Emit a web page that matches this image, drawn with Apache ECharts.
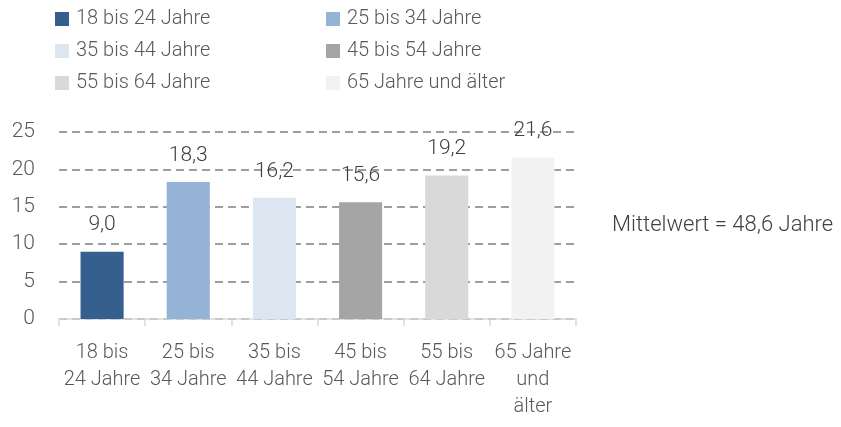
<!DOCTYPE html>
<html>
<head>
<meta charset="utf-8">
<script src="https://cdn.jsdelivr.net/npm/echarts@6/dist/echarts.min.js"></script>
<style>
  html, body { margin: 0; padding: 0; background: #fff; }
  #chart { width: 841px; height: 427px; }
</style>
</head>
<body>
<div id="chart"></div>
<script>
'use strict';

// Altersgruppen und Anteile (%)
var groups = ['18 bis 24 Jahre', '25 bis 34 Jahre', '35 bis 44 Jahre', '45 bis 54 Jahre', '55 bis 64 Jahre', '65 Jahre und älter'];
var axisLabels = ['18 bis\n24 Jahre', '25 bis\n34 Jahre', '35 bis\n44 Jahre', '45 bis\n54 Jahre', '55 bis\n64 Jahre', '65 Jahre\nund\nälter'];
var values = [9.0, 18.3, 16.2, 15.6, 19.2, 21.6];
var colors = ['#355F8D', '#95B3D7', '#DCE6F1', '#A5A5A5', '#D9D9D9', '#F2F2F2'];
var yTicks = [0, 5, 10, 15, 20, 25];
var meanText = 'Mittelwert = 48,6 Jahre';

var FONT = 'Roboto, "Noto Sans", sans-serif';
var W = 300; // leichter Schnitt

function buildChart() {
	var myChart = echarts.init(document.getElementById('chart'));

	// je Gruppe eine Serie, nur an ihrer eigenen Kategorie befüllt
	var series = groups.map(function (name, i) {
		var data = values.map(function (v, j) { return j === i ? v : '-'; });
		return {
			name: name,
			type: 'bar',
			stack: 'alle',
			barWidth: '50%',
			itemStyle: { color: colors[i] },
			label: {
				show: true,
				position: 'top',
				distance: 16,
				color: '#404040',
				fontFamily: FONT,
				fontWeight: W,
				fontSize: 21,
				formatter: function (p) { return p.value.toFixed(1).replace('.', ','); }
			},
			data: data
		};
	});

	// Legende: zwei Spalten, drei Zeilen
	var legends = groups.map(function (name, i) {
		return {
			data: [name],
			left: i % 2 === 0 ? 55 : 326,
			top: 9 + Math.floor(i / 2) * 32,
			padding: 0,
			itemWidth: 14,
			itemHeight: 14,
			icon: 'rect',
			selectedMode: false,
			textStyle: { color: '#595959', fontFamily: FONT, fontWeight: W, fontSize: 20, padding: [0, 0, 0, 2] }
		};
	});

	var option = {
		animation: false,
		backgroundColor: '#fff',
		legend: legends,
		grid: { left: 59, right: 265, top: 132, bottom: 108, containLabel: false },
		xAxis: {
			type: 'category',
			data: axisLabels,
			axisLine: { lineStyle: { color: '#D9D9D9', width: 1.5 } },
			axisTick: { show: true, length: 7, lineStyle: { color: '#D9D9D9', width: 1.5 } },
			axisLabel: {
				color: '#595959',
				fontFamily: FONT,
				fontWeight: W,
				fontSize: 20,
				lineHeight: 27,
				margin: 20,
				interval: 0
			}
		},
		yAxis: {
			type: 'value',
			min: yTicks[0],
			max: yTicks[yTicks.length - 1],
			interval: 5,
			axisLine: { show: false },
			axisTick: { show: false },
			axisLabel: { color: '#595959', fontFamily: FONT, fontWeight: W, fontSize: 21, margin: 24 },
			splitLine: { lineStyle: { color: '#7F7F7F', type: [8, 5], width: 1.5 } }
		},
		graphic: [{
			type: 'text',
			left: 612,
			top: 214,
			style: { text: meanText, fill: '#404040', font: W + ' 22px ' + FONT }
		}],
		series: series
	};
	myChart.setOption(option);
}

window.onload = function () {
	buildChart();
};
</script>
</body>
</html>
